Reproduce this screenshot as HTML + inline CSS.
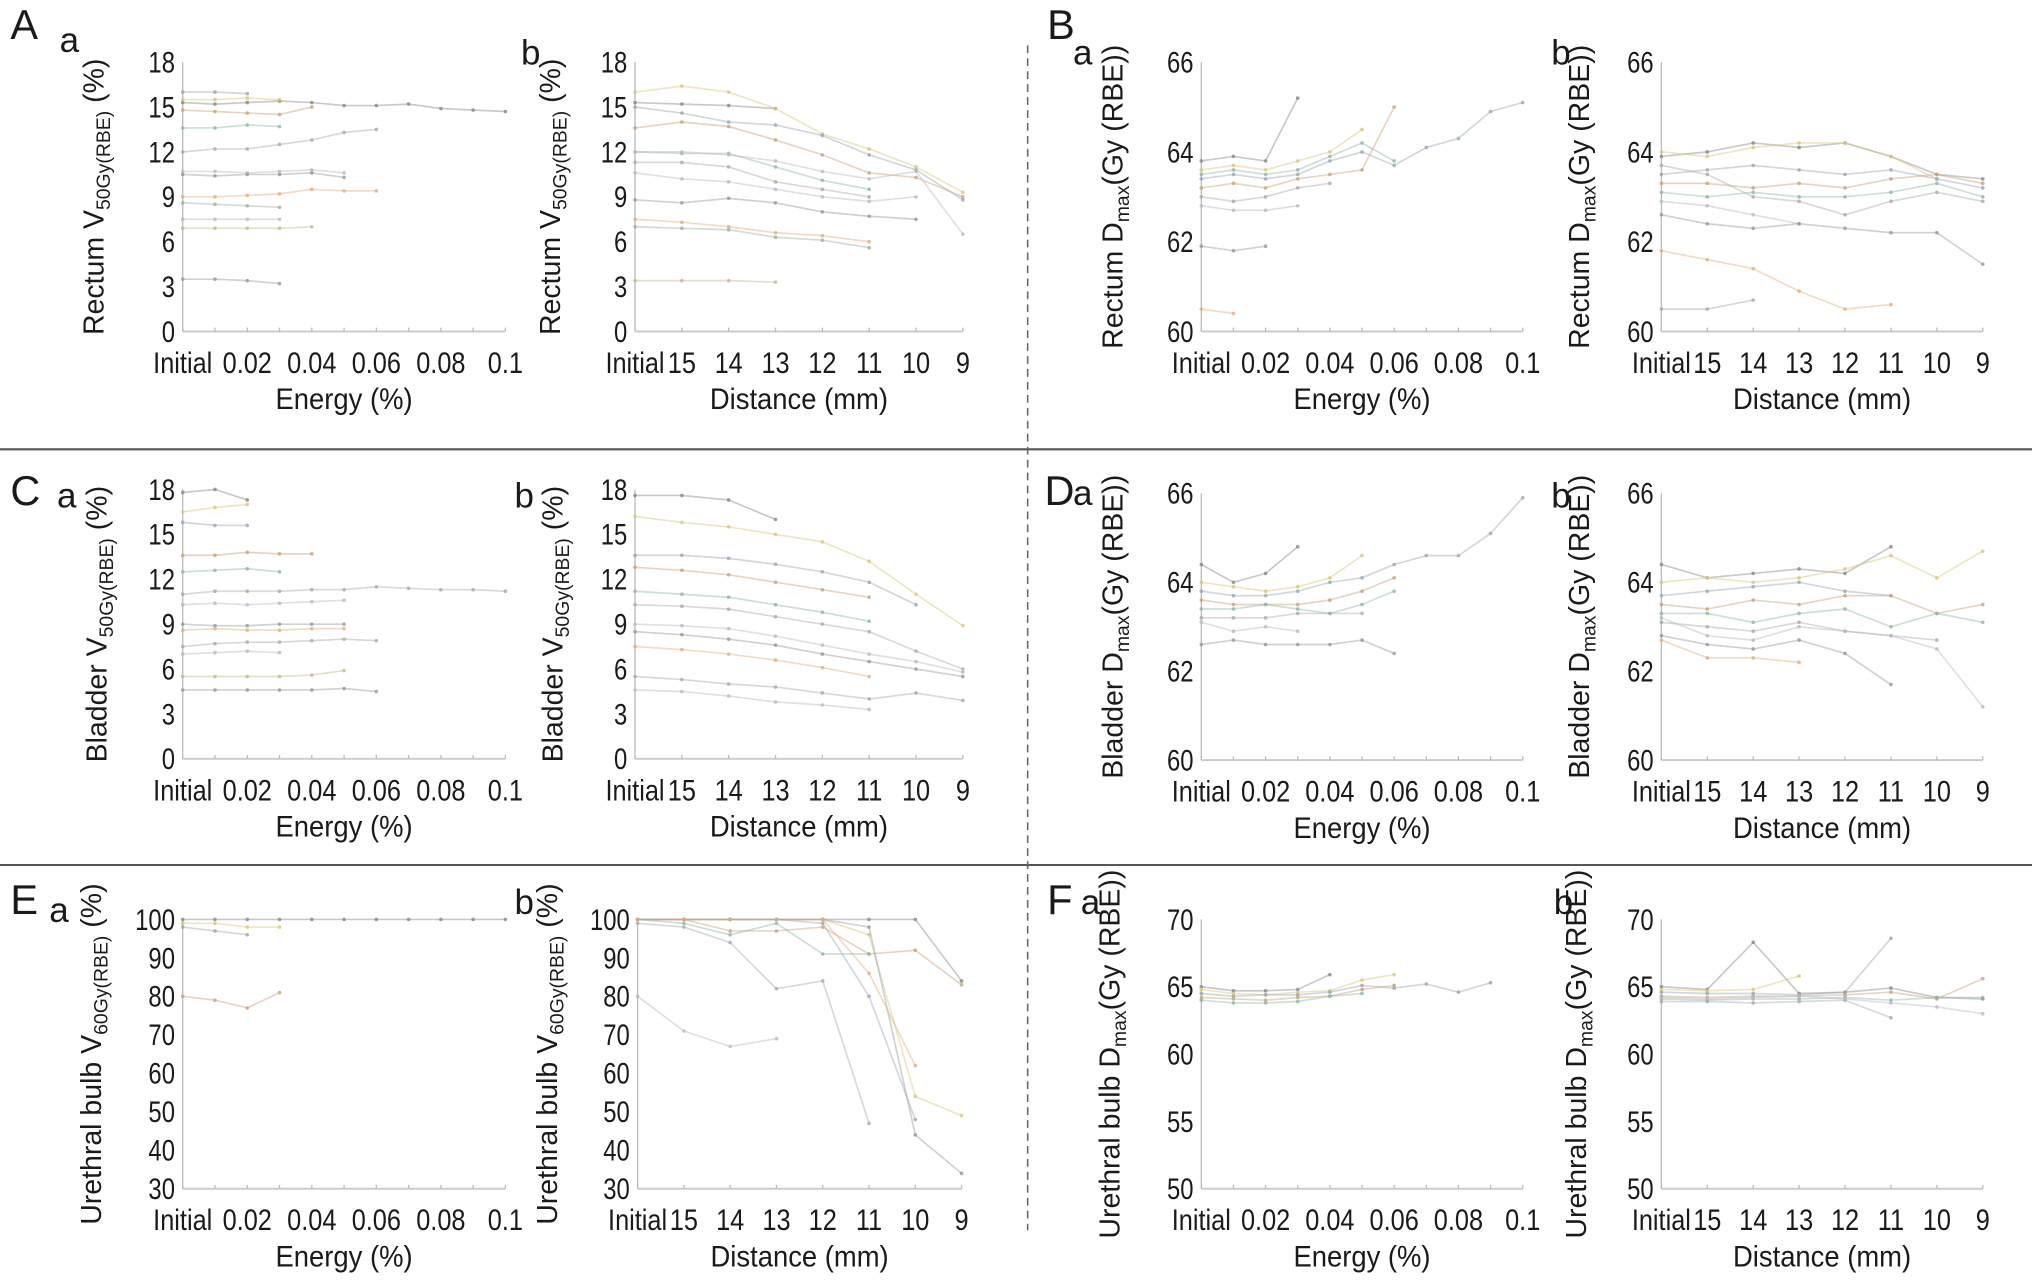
<!DOCTYPE html>
<html><head><meta charset="utf-8">
<style>
html,body{margin:0;padding:0;background:#fff;}
svg{display:block;}
text{font-family:"Liberation Sans",sans-serif;fill:#1a1a1a;}
</style></head>
<body>
<svg id="fig" width="2032" height="1282" viewBox="0 0 1568 990" preserveAspectRatio="none" xmlns="http://www.w3.org/2000/svg">
<line x1="0" y1="347" x2="1568" y2="347" stroke="#555" stroke-width="1.6"/>
<line x1="0" y1="668" x2="1568" y2="668" stroke="#555" stroke-width="1.6"/>
<line x1="793" y1="35" x2="793" y2="950" stroke="#666" stroke-width="1.2" stroke-dasharray="6,4"/>
</svg>
<script>
// ---- data ----
const energyCats = ["Initial","0.01","0.02","0.03","0.04","0.05","0.06","0.07","0.08","0.09","0.1"];
const energyTickLabels = ["Initial","","0.02","","0.04","","0.06","","0.08","","0.1"];
const distCats = ["Initial","15","14","13","12","11","10","9"];

const aaSeries = [[15.3,15.2,15.3,15.4,15.3,15.1,15.1,15.2,14.9,14.8,14.7],[15.5,15.5,15.6,15.5],[16.0,16.0,15.9],[14.8,14.7,14.6,14.5,15.0],[13.6,13.6,13.8,13.7],[12.0,12.2,12.2,12.5,12.8,13.3,13.5],[10.7,10.7,10.6,10.7,10.8,10.6],[10.5,10.4,10.5,10.5,10.6,10.3],[9.0,9.0,9.1,9.2,9.5,9.4,9.4],[8.6,8.5,8.4,8.3],[7.5,7.5,7.5,7.5],[6.9,6.9,6.9,6.9,7.0],[3.5,3.5,3.4,3.2]];
const abSeries = [[15.3,15.2,15.1,14.9],[16.0,16.4,16.0,14.9,13.2,12.2,11.0,9.3],[15.0,14.6,14.0,13.8,13.1,11.8,10.8,8.8],[13.6,14.0,13.7,12.8,11.8,10.6,10.3,9.0],[12.0,11.9,11.9,11.0,10.1,9.5],[11.3,11.3,11.0,10.0,9.5,9.0],[10.6,10.2,10.0,9.5,9.0,8.7,9.0],[8.8,8.6,8.9,8.6,8.0,7.7,7.5],[7.5,7.3,7.0,6.6,6.4,6.0],[7.0,6.9,6.8,6.3,6.1,5.6],[12.0,12.0,11.8,11.4,10.7,10.2,10.7,6.5],[3.4,3.4,3.4,3.3]];
const baSeries = [[63.8,63.9,63.8,65.2],[63.6,63.7,63.6,63.8,64.0,64.5],[63.4,63.5,63.4,63.5,63.8,64.0,63.7,64.1,64.3,64.9,65.1],[63.2,63.3,63.2,63.4,63.5,63.6,65.0],[63.5,63.6,63.5,63.6,63.9,64.2,63.8],[63.0,62.9,63.0,63.2,63.3],[62.8,62.7,62.7,62.8],[61.9,61.8,61.9],[60.5,60.4]];
const bbSeries = [[63.9,64.0,64.2,64.1,64.2,63.9,63.5,63.4],[64.0,63.9,64.1,64.2,64.2,63.9,63.4],[63.5,63.6,63.7,63.6,63.5,63.6,63.4,63.2],[63.3,63.3,63.2,63.3,63.2,63.4,63.5,63.3],[63.1,63.0,63.1,63.0,63.0,63.1,63.3,63.0],[63.7,63.5,63.0,62.9,62.6,62.9,63.1,62.9],[62.9,62.8,62.6,62.4],[62.6,62.4,62.3,62.4,62.3,62.2,62.2,61.5],[61.8,61.6,61.4,60.9,60.5,60.6],[60.5,60.5,60.7]];
const caSeries = [[17.8,18.0,17.3],[16.5,16.8,17.0],[15.8,15.6,15.6],[13.6,13.6,13.8,13.7,13.7],[12.5,12.6,12.7,12.5],[11.0,11.2,11.2,11.2,11.3,11.3,11.5,11.4,11.3,11.3,11.2],[10.3,10.4,10.3,10.4,10.5,10.6],[9.0,8.9,8.9,9.0,9.0,9.0],[8.6,8.7,8.6,8.6,8.7,8.7],[7.5,7.7,7.8,7.8,7.9,8.0,7.9],[7.0,7.1,7.2,7.1],[5.5,5.5,5.5,5.5,5.6,5.9],[4.6,4.6,4.6,4.6,4.6,4.7,4.5]];
const cbSeries = [[17.6,17.6,17.3,16.0],[16.2,15.8,15.5,15.0,14.5,13.2,11.0,8.9],[13.6,13.6,13.4,13.0,12.5,11.8,10.3],[12.8,12.6,12.3,11.8,11.3,10.8],[11.2,11.0,10.8,10.3,9.8,9.2],[10.3,10.2,10.0,9.5,9.0,8.5,7.2,6.0],[9.0,8.9,8.7,8.2,7.6,7.0,6.5,5.8],[8.5,8.3,8.0,7.6,7.0,6.5,6.0,5.5],[7.5,7.3,7.0,6.6,6.1,5.5],[5.5,5.3,5.0,4.8,4.4,4.0,4.4,3.9],[4.6,4.5,4.2,3.8,3.6,3.3]];
const daSeries = [[64.4,64.0,64.2,64.8],[64.0,63.9,63.8,63.9,64.1,64.6],[63.8,63.7,63.7,63.8,64.0,64.1,64.4,64.6,64.6,65.1,65.9],[63.6,63.5,63.5,63.5,63.6,63.8,64.1],[63.4,63.4,63.5,63.4,63.3,63.5,63.8],[63.2,63.2,63.2,63.3,63.3,63.3],[63.1,62.9,63.0,62.9],[62.6,62.7,62.6,62.6,62.6,62.7,62.4]];
const dbSeries = [[64.4,64.1,64.2,64.3,64.2,64.8],[64.0,64.1,64.0,64.1,64.3,64.6,64.1,64.7],[63.7,63.8,63.9,64.0,63.8,63.7],[63.5,63.4,63.6,63.5,63.7,63.7,63.3,63.5],[63.3,63.3,63.1,63.3,63.4,63.0,63.3,63.1],[63.1,63.0,62.9,63.1,62.9,62.8,62.7],[63.2,62.8,62.7,63.0,62.9,62.8,62.5,61.2],[62.8,62.6,62.5,62.7,62.4,61.7],[62.7,62.3,62.3,62.2]];
const eaSeries = [[100,100,100,100,100,100,100,100,100,100,100],[99,99,98,98],[98,97,96],[80,79,77,81]];
const ebSeries = [[100,100,100,100,100,100,100,84],[100,100,100,100,100,96,54,49],[100,100,100,100,99,80,48],[100,100,97,97,98,91,92,83],[100,99,96,99,91,91],[99,98,94,82,84,47],[80,71,67,69],[100,100,100,100,100,98,44,34],[100,100,100,100,100,86,62]];
const faSeries = [[65.0,64.7,64.7,64.8,65.9],[64.8,64.5,64.4,64.6,64.7,65.5,65.9],[64.5,64.3,64.4,64.4,64.6,65.1,64.9,65.2,64.6,65.3],[64.2,64.1,64.0,64.2,64.3,64.8,65.1],[64.0,63.8,63.8,63.9,64.3,64.5]];
const fbSeries = [[65.0,64.8,68.3,64.5,64.6,64.9,64.2,64.1],[64.8,64.7,64.8,65.8],[64.6,64.5,64.5,64.4,64.6,68.6],[64.3,64.2,64.3,64.3,64.4,64.6,64.1,65.6],[64.1,64.0,64.1,64.1,64.2,64.0,64.2,64.2],[63.9,63.9,63.8,63.9,64.0,62.7],[64.2,64.1,64.2,64.3,64.1,63.8,63.5,63.0]];

const palette = ["#888","#d9c87a","#9aa6b8","#c9a27a","#8fb8a8","#aaa","#b9b9c9","#999","#e0b080","#a0b0a0","#bbb","#c8b890","#999"];

const NS = "http://www.w3.org/2000/svg";
const svg = document.getElementById("fig");
function mk(tag, attrs, parent){const e=document.createElementNS(NS,tag);for(const k in attrs)e.setAttribute(k,attrs[k]);(parent||svg).appendChild(e);return e;}

const panels = [
 {id:"a-a",x0:141,x1:390,y0:48,y1:256,ymin:0,ymax:18,ystep:3,cats:energyCats,tl:energyTickLabels,data:aaSeries,xt:"Energy (%)",org:"Rectum ",sym:"V",sub:"50Gy(RBE)",suf:" (%)",tx:80},
 {id:"a-b",x0:490,x1:743,y0:48,y1:256,ymin:0,ymax:18,ystep:3,cats:distCats,tl:distCats,data:abSeries,xt:"Distance (mm)",org:"Rectum ",sym:"V",sub:"50Gy(RBE)",suf:" (%)",tx:432},
 {id:"b-a",x0:927,x1:1175,y0:48,y1:256,ymin:60,ymax:66,ystep:2,cats:energyCats,tl:energyTickLabels,data:baSeries,xt:"Energy (%)",org:"Rectum ",sym:"D",sub:"max",suf:"(Gy (RBE))",tx:866},
 {id:"b-b",x0:1282,x1:1530,y0:48,y1:256,ymin:60,ymax:66,ystep:2,cats:distCats,tl:distCats,data:bbSeries,xt:"Distance (mm)",org:"Rectum ",sym:"D",sub:"max",suf:"(Gy (RBE))",tx:1226},
 {id:"c-a",x0:141,x1:390,y0:378,y1:586,ymin:0,ymax:18,ystep:3,cats:energyCats,tl:energyTickLabels,data:caSeries,xt:"Energy (%)",org:"Bladder ",sym:"V",sub:"50Gy(RBE)",suf:" (%)",tx:82},
 {id:"c-b",x0:490,x1:743,y0:378,y1:586,ymin:0,ymax:18,ystep:3,cats:distCats,tl:distCats,data:cbSeries,xt:"Distance (mm)",org:"Bladder ",sym:"V",sub:"50Gy(RBE)",suf:" (%)",tx:434},
 {id:"d-a",x0:927,x1:1175,y0:381,y1:587,ymin:60,ymax:66,ystep:2,cats:energyCats,tl:energyTickLabels,data:daSeries,xt:"Energy (%)",org:"Bladder ",sym:"D",sub:"max",suf:"(Gy (RBE))",tx:866},
 {id:"d-b",x0:1282,x1:1530,y0:381,y1:587,ymin:60,ymax:66,ystep:2,cats:distCats,tl:distCats,data:dbSeries,xt:"Distance (mm)",org:"Bladder ",sym:"D",sub:"max",suf:"(Gy (RBE))",tx:1226},
 {id:"e-a",x0:141,x1:390,y0:710,y1:918,ymin:30,ymax:100,ystep:10,cats:energyCats,tl:energyTickLabels,data:eaSeries,xt:"Energy (%)",org:"Urethral bulb ",sym:"V",sub:"60Gy(RBE)",suf:" (%)",tx:78},
 {id:"e-b",x0:492,x1:742,y0:710,y1:918,ymin:30,ymax:100,ystep:10,cats:distCats,tl:distCats,data:ebSeries,xt:"Distance (mm)",org:"Urethral bulb ",sym:"V",sub:"60Gy(RBE)",suf:" (%)",tx:430},
 {id:"f-a",x0:927,x1:1175,y0:710,y1:918,ymin:50,ymax:70,ystep:5,cats:energyCats,tl:energyTickLabels,data:faSeries,xt:"Energy (%)",org:"Urethral bulb ",sym:"D",sub:"max",suf:"(Gy (RBE))",tx:864},
 {id:"f-b",x0:1282,x1:1530,y0:710,y1:918,ymin:50,ymax:70,ystep:5,cats:distCats,tl:distCats,data:fbSeries,xt:"Distance (mm)",org:"Urethral bulb ",sym:"D",sub:"max",suf:"(Gy (RBE))",tx:1224}
];

panels.forEach(p=>{
  const g = mk("g",{});
  
  
  const n = p.cats.length;
  const xs = i => p.x0 + (p.x1-p.x0)*i/(n-1);
  const ys = v => p.y1 - (v-p.ymin)/(p.ymax-p.ymin)*(p.y1-p.y0);
  const ya = mk("line",{x1:p.x0,y1:p.y0,x2:p.x0,y2:p.y1,stroke:"#bbb","stroke-width":1},g);
  
  
  const xa = mk("line",{x1:p.x0,y1:p.y1,x2:p.x1,y2:p.y1,stroke:"#ccc","stroke-width":1.5},g);
  
  
  for(let v=p.ymin; v<=p.ymax+1e-9; v+=p.ystep){
    const t = mk("text",{"text-anchor":"end","font-size":23,transform:`translate(${p.x0-6},${ys(v)+8}) scale(0.8,1)`},g);
    t.textContent = v;
    
    
  }
  p.tl.forEach((lab,i)=>{
    mk("line",{x1:xs(i),y1:p.y1,x2:xs(i),y2:p.y1-3,stroke:"#bbb","stroke-width":1},g);
    if(!lab) return;
    const t = mk("text",{"text-anchor":"middle","font-size":23,transform:`translate(${xs(i)},${p.y1+32}) scale(0.85,1)`},g);
    t.textContent = lab;
    
    
  });
  const xt = mk("text",{"text-anchor":"middle","font-size":23,transform:`translate(${(p.x0+p.x1)/2},${p.y1+60}) scale(0.92,1)`},g);
  xt.textContent = p.xt;
  
  
  const yt = mk("text",{x:0,y:0,"text-anchor":"middle","font-size":22,transform:`translate(${p.tx},${(p.y0+p.y1)/2}) rotate(-90)`},g);
  
  
  const t1 = mk("tspan",{},yt); t1.textContent = p.org + p.sym;
  const t2 = mk("tspan",{"font-size":15,dy:5},yt); t2.textContent = p.sub;
  const t3 = mk("tspan",{dy:-5},yt); t3.textContent = p.suf;
  p.data.forEach((s,k)=>{
    const col = palette[k%palette.length];
    const pts = s.map((v,i)=>xs(i).toFixed(1)+","+ys(v).toFixed(1)).join(" ");
    const pl = mk("polyline",{points:pts,fill:"none",stroke:col,"stroke-width":1.3,"stroke-opacity":0.45},g);
    
    
    s.forEach((v,i)=>{
      const c = mk("circle",{cx:xs(i),cy:ys(v),r:1.4,fill:col,"fill-opacity":0.8},g);
      
      
    });
  });
});

const letters = [
 ["A",8,30,32],["a",46,40,27],["b",402,50,27],
 ["B",808,30,32],["a",828,50,27],["b",1197,50,27],
 ["C",8,390,32],["a",44,392,27],["b",397,392,27],
 ["D",806,390,32],["a",828,390,27],["b",1197,392,27],
 ["E",8,706,32],["a",38,712,27],["b",397,706,27],
 ["F",808,706,32],["a",834,706,27],["b",1199,706,27]
];
letters.forEach(l=>{
  const t = mk("text",{x:l[1],y:l[2],"font-size":l[3]});
  t.textContent = l[0];
  
  
});
</script>
</body></html>
